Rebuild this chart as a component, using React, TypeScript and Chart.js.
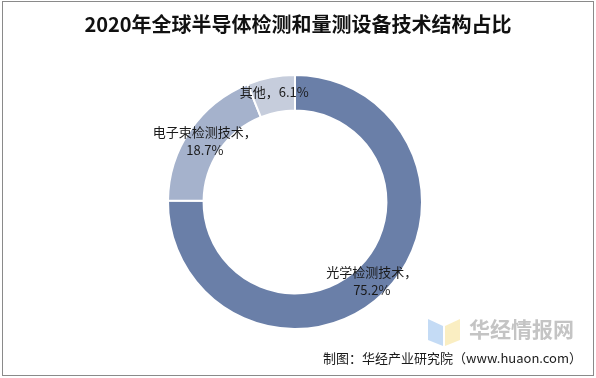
import React, { useEffect, useRef } from "react";
import { Chart, registerables } from "chart.js";

Chart.register(...registerables);

const title = "2020年全球半导体检测和量测设备技术结构占比";
const categories = ["光学检测技术", "电子束检测技术", "其他"];
const values = [75.2, 18.7, 6.1];
const colors = ["#6a7fa8", "#a5b2cc", "#c6cddc"];
const sourceText = "制图：华经产业研究院（www.huaon.com）";
const watermark = "华经情报网";

const decorPlugin = {
  id: "decor",
  afterDraw(chart: any) {
    const ctx = chart.ctx as CanvasRenderingContext2D;
    ctx.save();
    // frame
    ctx.strokeStyle = "#8a8a8a";
    ctx.lineWidth = 1;
    ctx.strokeRect(2.5, 1.5, 591, 374);
    // title
    ctx.fillStyle = "#111";
    ctx.font = "bold 20px 'Noto Sans CJK SC', sans-serif";
    ctx.textAlign = "center";
    ctx.textBaseline = "middle";
    ctx.fillText(title, 298, 24);

    // labels
    const meta = chart.getDatasetMeta(0);
    ctx.font = "13px 'Noto Sans CJK SC', sans-serif";
    ctx.fillStyle = "#1a1a1a";
    meta.data.forEach((arc: any, i: number) => {
      const p = arc.tooltipPosition();
      const v = values[i].toFixed(1) + "%";
      if (i === 2) {
        ctx.fillText(categories[i] + "，" + v, p.x, p.y - 3);
      } else {
        ctx.fillText(categories[i] + "，", p.x, p.y - 8);
        ctx.fillText(v, p.x, p.y + 10);
      }
    });

    // watermark logo
    ctx.globalAlpha = 0.6;
    ctx.fillStyle = "#9cc3ee";
    ctx.beginPath();
    ctx.moveTo(428, 319);
    ctx.lineTo(443, 326);
    ctx.lineTo(443, 346);
    ctx.lineTo(428, 340);
    ctx.closePath();
    ctx.fill();
    ctx.fillStyle = "#f6e39a";
    ctx.beginPath();
    ctx.moveTo(445, 326);
    ctx.lineTo(460, 319);
    ctx.lineTo(460, 340);
    ctx.lineTo(445, 346);
    ctx.closePath();
    ctx.fill();
    ctx.globalAlpha = 1;
    ctx.fillStyle = "#c4c4c4";
    ctx.font = "bold 21px 'Noto Sans CJK SC', sans-serif";
    ctx.textAlign = "left";
    ctx.fillText(watermark, 469, 329);

    // source
    ctx.fillStyle = "#1a1a1a";
    ctx.font = "13px 'Noto Sans CJK SC', sans-serif";
    ctx.textAlign = "right";
    ctx.fillText(sourceText, 582, 358);
    ctx.restore();
  },
};

export default function App() {
  const ref = useRef<HTMLCanvasElement | null>(null);
  useEffect(() => {
    document.body.style.margin = "0";
    const chart = new Chart(ref.current as HTMLCanvasElement, {
      type: "doughnut",
      data: {
        labels: categories,
        datasets: [
          {
            data: values,
            backgroundColor: colors,
            borderColor: "#ffffff",
            borderWidth: 2,
          },
        ],
      },
      options: {
        animation: false,
        responsive: false,
        cutout: "72%",
        layout: { padding: { top: 74, bottom: 48, left: 0, right: 6 } },
        plugins: {
          legend: { display: false },
          tooltip: { enabled: false },
          title: { display: false },
        },
      },
      plugins: [decorPlugin],
    });
    return () => chart.destroy();
  }, []);
  return (
    <div style={{ width: 596, height: 378, background: "#fff" }}>
      <canvas ref={ref} width={596} height={378} style={{ display: "block" }} />
    </div>
  );
}
